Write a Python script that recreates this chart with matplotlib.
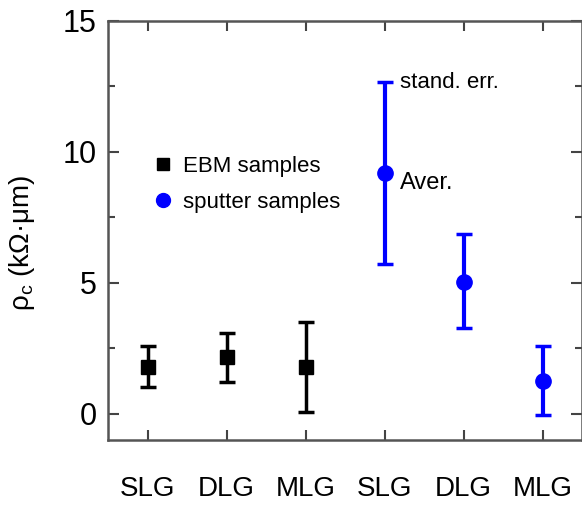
import matplotlib
matplotlib.use("Agg")
import matplotlib.pyplot as plt
from matplotlib.ticker import MultipleLocator
from matplotlib.lines import Line2D

plt.rcParams['font.family'] = ['Liberation Sans', 'DejaVu Sans']

samples = ['SLG', 'DLG', 'MLG', 'SLG', 'DLG', 'MLG']

# EBM samples
ebm_x = [1, 2, 3]
ebm_mean = [1.8, 2.15, 1.8]
ebm_low = [1.03, 1.23, 0.05]
ebm_high = [2.57, 3.08, 3.51]

# sputter samples
sp_x = [4, 5, 6]
sp_mean = [9.2, 5.05, 1.27]
sp_low = [5.72, 3.28, -0.05]
sp_high = [12.67, 6.88, 2.6]

fig = plt.figure(figsize=(5.82, 5.11), dpi=100)
ax = fig.add_axes([0.1856, 0.139, 0.8144, 0.82])

ebm_err = [[m - l for m, l in zip(ebm_mean, ebm_low)], [h - m for m, h in zip(ebm_mean, ebm_high)]]
sp_err = [[m - l for m, l in zip(sp_mean, sp_low)], [h - m for m, h in zip(sp_mean, sp_high)]]

ax.errorbar(ebm_x, ebm_mean, yerr=ebm_err, fmt='s', color='black', ms=10,
            elinewidth=2.5, capsize=6, capthick=2.5)
ax.errorbar(sp_x, sp_mean, yerr=sp_err, fmt='o', color='#0000ff', ms=11,
            elinewidth=3, capsize=6, capthick=2.5)

ax.set_xlim(0.5, 6.5)
ax.set_ylim(-1, 15)
ax.set_xticks(range(1, 7))
ax.set_xticklabels(samples, fontsize=20)
ax.yaxis.set_major_locator(MultipleLocator(5))
ax.yaxis.set_minor_locator(MultipleLocator(2.5))
ax.tick_params(axis='both', which='both', direction='in', top=True, right=True,
               color='#444444', width=1.5)
ax.tick_params(axis='x', which='major', length=7, pad=26)
ax.tick_params(axis='y', which='major', length=8, pad=8, labelsize=22)
ax.tick_params(axis='y', which='minor', length=5)
for s in ax.spines.values():
    s.set_color('#555555')
    s.set_linewidth(1.8)

ax.set_ylabel('ρ$_\\mathregular{c}$ (kΩ·μm)', fontsize=20)
ax.yaxis.set_label_coords(-0.15, 0.47)

ax.text(4.2, 12.65, 'stand. err.', fontsize=16, va='center')
ax.text(4.2, 8.8, 'Aver.', fontsize=17, va='center')

handles = [Line2D([], [], ls='none', marker='s', color='black', ms=9),
           Line2D([], [], ls='none', marker='o', color='#0000ff', ms=10)]
ax.legend(handles, ['EBM samples', 'sputter samples'], loc='upper left',
          bbox_to_anchor=(0.07, 0.705), frameon=False, fontsize=16,
          handletextpad=0.4, labelspacing=0.7, handlelength=1.0, borderpad=0)

fig.savefig('out.png', dpi=100)
